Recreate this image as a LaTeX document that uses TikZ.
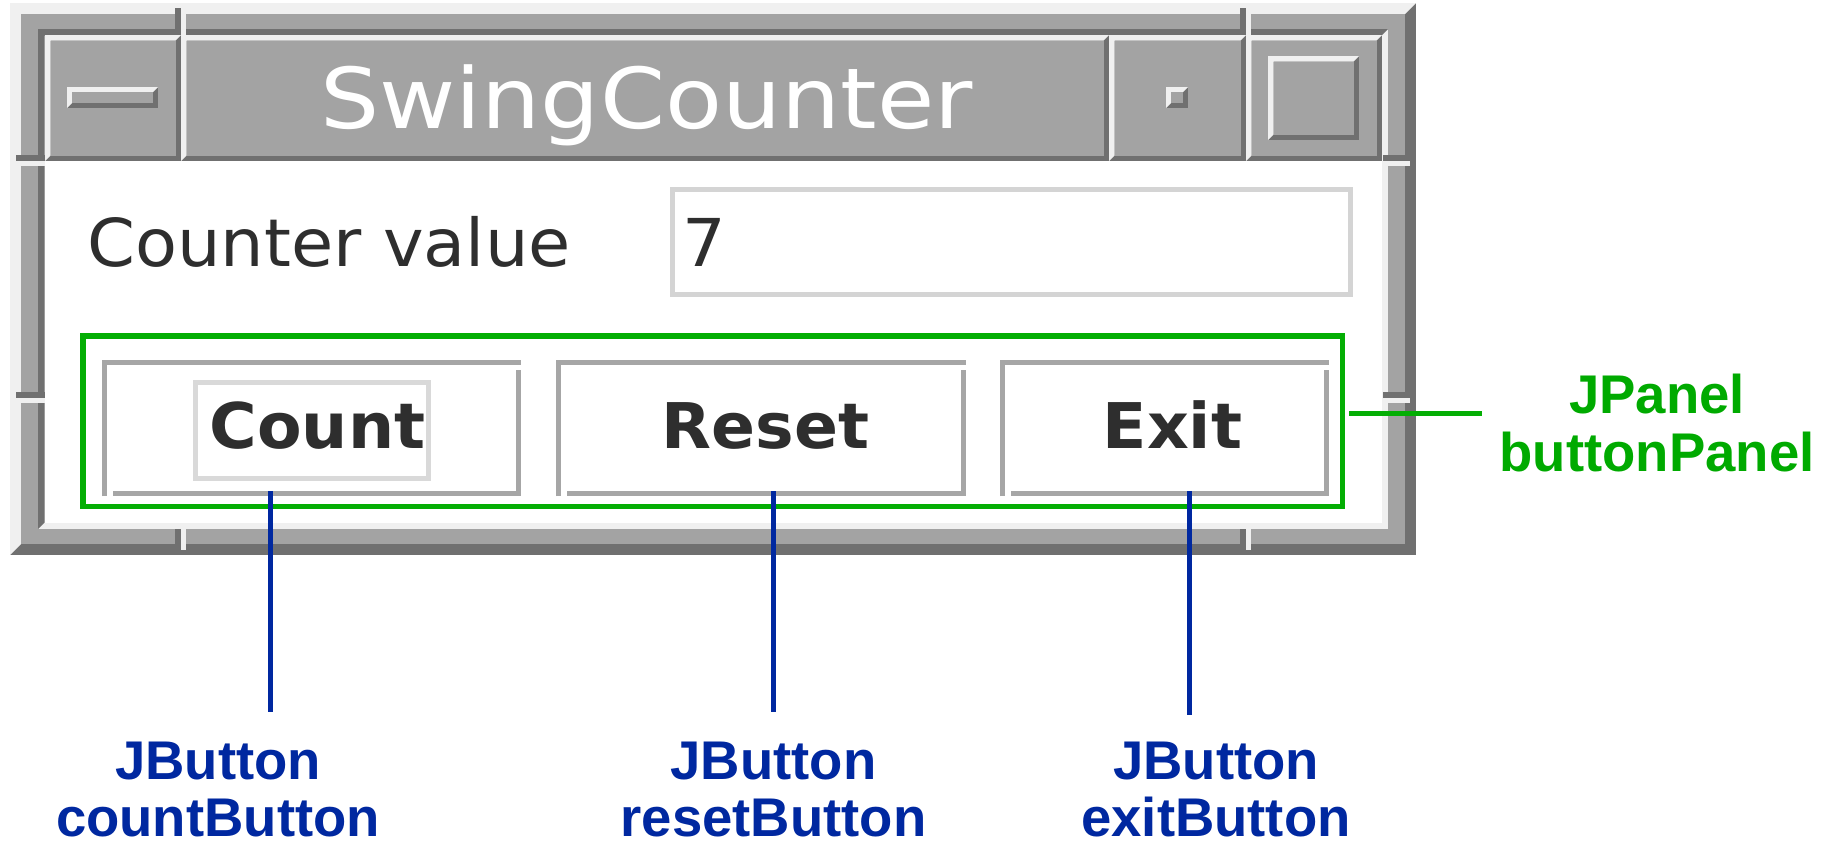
\documentclass[tikz,border=0pt]{standalone}
\usepackage{fontspec}
\setmainfont{DejaVu Sans}
\newfontfamily\titlefont{DejaVu Sans}[FakeStretch=1.11]
\newfontfamily\uifont{DejaVu Sans}[FakeStretch=1.04]
\newfontfamily\btnfont{DejaVu Sans}[FakeStretch=1.03]
\newfontfamily\notefont{Liberation Sans}

\definecolor{framemid}{RGB}{163,163,163}
\definecolor{framedark}{RGB}{112,112,112}
\definecolor{framelight}{RGB}{240,240,240}
\definecolor{btnedge}{RGB}{166,166,166}
\definecolor{focusgray}{RGB}{217,217,217}
\definecolor{fieldgray}{RGB}{212,212,212}
\definecolor{inktext}{RGB}{46,46,46}
\definecolor{panelgreen}{RGB}{4,174,4}
\definecolor{notegreen}{RGB}{0,170,0}
\definecolor{noteblue}{RGB}{0,40,160}

% beveled rectangle: x0 y0 x1 y1 thickness topleft-colour bottomright-colour
\newcommand{\bevelrect}[7]{%
  \fill[#7] (#1,#2) rectangle (#3,#4);
  \fill[#6] (#1,#2) -- (#3,#2) -- ({#3-#5},{#2+#5}) -- ({#1+#5},{#2+#5})
            -- ({#1+#5},{#4-#5}) -- (#1,#4) -- cycle;}
% raised Motif-style panel with grey face
\newcommand{\raisedpanel}[5]{%
  \bevelrect{#1}{#2}{#3}{#4}{#5}{framelight}{framedark}%
  \fill[framemid] ({#1+#5},{#2+#5}) rectangle ({#3-#5},{#4-#5});}
% resize-handle notches in the frame
\newcommand{\vnotch}[4]{%
  \fill[framedark] (#1,#3) rectangle ({#1+6},#4);
  \fill[framelight] ({#1+6},#3) rectangle (#2,#4);}
\newcommand{\hnotch}[4]{%
  \fill[framedark] (#1,#3) rectangle (#2,{#3+6});
  \fill[framelight] ({#1+5},{#3+6}) rectangle (#2,#4);}
% Swing button outline: left x, right x
\newcommand{\swingbutton}[2]{%
  \draw[btnline] ({#1+2.5},496) -- ({#1+2.5},362) -- (#2,362);
  \draw[btnline] ({#2-2.5},370) -- ({#2-2.5},493.5) -- ({#1+11},493.5);}

\tikzset{
  btnline/.style={draw=btnedge, line width=5pt, line cap=butt, line join=miter},
  titletext/.style={font=\titlefont\fontsize{84}{90}\selectfont, text=white, inner sep=0pt},
  uitext/.style={font=\uifont\fontsize{66}{70}\selectfont, text=inktext, inner sep=0pt},
  btntext/.style={font=\btnfont\bfseries\fontsize{63}{66}\selectfont, text=inktext, inner sep=0pt},
  bluenote/.style={font=\notefont\bfseries\fontsize{54.5}{57}\selectfont, text=noteblue,
                   align=center, inner sep=0pt, anchor=north},
  greennote/.style={font=\notefont\bfseries\fontsize{54.5}{57.7}\selectfont, text=notegreen,
                    align=center, inner sep=0pt, anchor=north},
  blueline/.style={draw=noteblue, line width=5.3pt, line cap=butt},
  greenline/.style={draw=panelgreen, line width=5pt, line cap=butt},
}

\begin{document}
\begin{tikzpicture}[x=1pt,y=-1pt]
\useasboundingbox (0,0) rectangle (1829,841);
\fill[white] (0,0) rectangle (1829,841);

% window frame: raised outer bevel, grey band, sunken inner bevel
\bevelrect{10}{3}{1416}{555}{11}{framelight}{framedark}
\fill[framemid] (21,14) rectangle (1405,544);
\bevelrect{38}{29}{1388}{529}{6.5}{framedark}{framelight}
\fill[white] (44.5,35.5) rectangle (1381.5,522.5);

% resize-handle notches
\vnotch{175}{186}{8}{35}
\vnotch{175}{186}{529}{550}
\vnotch{1240}{1251}{8}{35}
\vnotch{1240}{1251}{529}{550}
\hnotch{16}{45}{155}{166}
\hnotch{16}{45}{392}{403}
\hnotch{1383}{1410}{155}{166}
\hnotch{1383}{1410}{392}{403}

% title bar buttons
\raisedpanel{45}{35}{181}{161}{5.5}
\raisedpanel{181}{35}{1109}{161}{5.5}
\raisedpanel{1109}{35}{1246}{161}{5.5}
\raisedpanel{1246}{35}{1382}{161}{5.5}
% window-menu, iconify and maximize glyphs
\raisedpanel{67}{87}{158}{108}{5}
\raisedpanel{1166}{87}{1188}{108}{5}
\raisedpanel{1268}{56}{1359}{140}{5.5}

\node[titletext, anchor=base] (title) at (646.5,128) {SwingCounter};

% counter row
\node[uitext, anchor=base west] (caption) at (87,266) {Counter value};
\draw[fieldgray, line width=5pt] (672.5,189.5) rectangle (1350.5,294.5);
\node[uitext, anchor=base west] (value) at (682,266) {7};

% button panel
\draw[panelgreen, line width=5.5pt] (82.75,335.75) rectangle (1342.25,506.25);

\swingbutton{102}{521}
\swingbutton{556}{966}
\swingbutton{1000}{1329}
\draw[focusgray, line width=5pt] (195.5,382.5) rectangle (428.5,478.5);

\node[btntext, anchor=base] (countText) at (317.5,448) {Count};
\node[btntext, anchor=base] (resetText) at (765.5,448) {Reset};
\node[btntext, anchor=base] (exitText) at (1172.5,448) {Exit};

% annotations
\node[greennote] (panelLabel) at (1657,374) {JPanel\\buttonPanel};
\node[bluenote] (countLabel) at (218,742) {JButton\\countButton};
\node[bluenote] (resetLabel) at (773.5,742) {JButton\\resetButton};
\node[bluenote] (exitLabel) at (1216,742) {JButton\\exitButton};

\coordinate (panelTip) at (1349,413.5);
\coordinate (panelEnd) at (1481.5,413.5);
\coordinate (countTip) at (270.5,491);
\coordinate (countEnd) at (270.5,712);
\coordinate (resetTip) at (773.5,491);
\coordinate (resetEnd) at (773.5,712);
\coordinate (exitTip) at (1189.7,491);
\coordinate (exitEnd) at (1189.7,715);

\draw[greenline] (panelTip) -- (panelEnd);
\draw[blueline] (countTip) -- (countEnd);
\draw[blueline] (resetTip) -- (resetEnd);
\draw[blueline] (exitTip) -- (exitEnd);
\end{tikzpicture}
\end{document}
